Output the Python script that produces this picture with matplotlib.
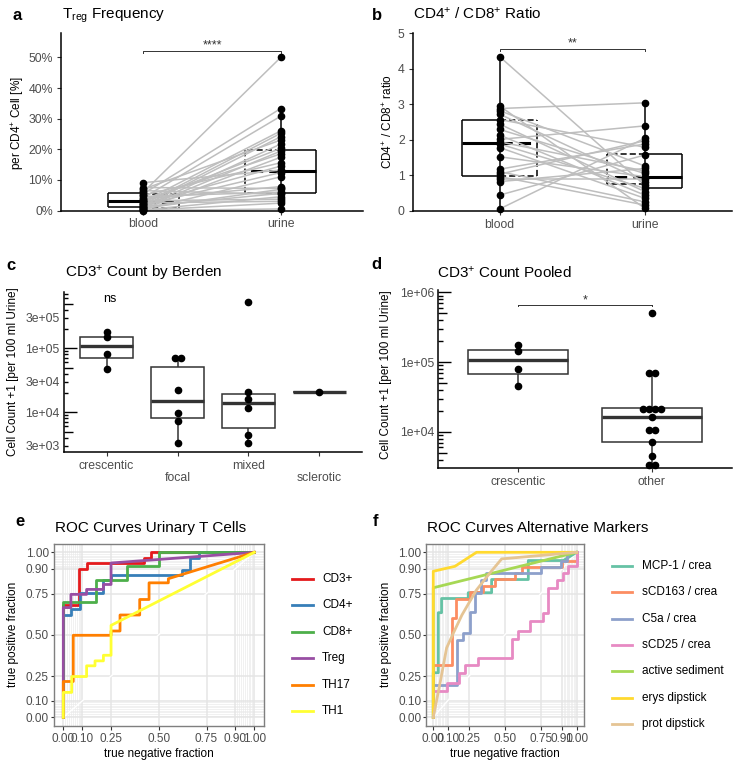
import numpy as np
import matplotlib
matplotlib.use("Agg")
import matplotlib.pyplot as plt
from matplotlib.lines import Line2D
from matplotlib.patches import Rectangle
from matplotlib import transforms

plt.rcParams['font.family'] = ['Liberation Sans', 'DejaVu Sans']
plt.rcParams['mathtext.default'] = 'regular'

W, H = 738, 764
TICK_C = '#4D4D4D'

# ---------------- data ----------------
# a: Treg frequency [% of CD4+], paired samples blood[i] <-> urine[i]
treg_blood = [6.0, 5.5, 4.2, 3.0, 2.0, 1.5, 7.0, 1.1, 2.8, 0.9, 3.5, 0.5, 5.0, 2.2,
              9.1, 1.8, 0.3, 3.8, 7.5, 0.7, 4.6, 1.3, 6.5, 0.2, 3.2, 2.5, 0.1, 0.0]
treg_urine = [50.0, 33.3, 30.8, 26.0, 25.2, 24.1, 23.0, 21.7, 20.3, 19.4, 18.5, 17.4, 15.6, 14.5,
              13.2, 12.4, 11.0, 7.8, 7.2, 6.9, 6.0, 5.6, 5.3, 4.5, 3.7, 3.0, 2.4, 0.5]
treg_box_solid = [(1.2, 3.1, 5.6), (5.6, 13.0, 19.8)]     # q1, median, q3
treg_box_dashed = [(0.8, 2.8, 5.4), (5.6, 13.0, 19.8)]
treg_whisk = [(0.0, 9.1), (0.5, 33.3)]

# b: CD4/CD8 ratio, paired
ratio_blood = [4.34, 2.95, 2.88, 2.82, 2.72, 2.57, 2.44, 2.29, 2.13, 2.01, 1.94,
               1.88, 1.78, 1.52, 1.17, 1.10, 1.03, 0.96, 0.88, 0.82, 0.44, 0.05]
ratio_urine = [0.72, 0.07, 3.04, 1.26, 0.82, 1.79, 0.54, 1.05, 0.44, 2.39, 1.12,
               0.63, 0.35, 0.96, 1.88, 0.25, 1.97, 0.16, 0.88, 1.19, 1.57, 2.04]
ratio_box_solid = [(0.98, 1.9, 2.57), (0.64, 0.96, 1.6)]
ratio_box_dashed = [(0.98, 1.9, 2.57), (0.75, 0.96, 1.6)]
ratio_whisk = [(0.0, 4.34), (0.0, 3.04)]

# c: CD3+ count by Berden class
berden_groups = ['crescentic', 'focal', 'mixed', 'sclerotic']
cd3_crescentic = [1.78e5, 1.49e5, 8.06e4, 4.7e4]
cd3_focal = [7.0e4, 7.0e4, 2.25e4, 9.9e3, 7.3e3, 3.3e3]
cd3_mixed = [5.24e5, 2.05e4, 1.63e4, 1.16e4, 4.47e3, 3.35e3]
cd3_sclerotic = [2.05e4]
berden_q1 = [7.1e4, 8.05e3, 5.75e3, 2.05e4]
berden_med = [1.09e5, 1.52e4, 1.38e4, 2.05e4]
berden_q3 = [1.52e5, 5.1e4, 1.93e4, 2.05e4]
berden_wlo = [4.7e4, 3.3e3, 3.35e3, 2.05e4]
berden_whi = [1.78e5, 7.0e4, 2.05e4, 2.05e4]

# d: CD3+ count pooled
pooled_groups = ['crescentic', 'other']
pooled_crescentic = [1.75e5, 1.44e5, 7.94e4, 4.6e4]
pooled_other = [5.1e5, 6.95e4, 6.95e4, 2.1e4, 2.1e4, 2.1e4, 2.1e4, 1.65e4,
                1.06e4, 1.06e4, 7.3e3, 4.5e3, 3.4e3, 3.4e3]
pooled_q1 = [6.8e4, 7.3e3]
pooled_med = [1.07e5, 1.65e4]
pooled_q3 = [1.48e5, 2.24e4]
pooled_wlo = [4.6e4, 3.4e3]
pooled_whi = [1.75e5, 6.95e4]

# e: ROC urinary T cells
roc_breaks = [0, 0.1, 0.25, 0.5, 0.75, 0.9, 1.0]
roc_labels = ['0.00', '0.10', '0.25', '0.50', '0.75', '0.90', '1.00']
e_names = ['CD3+', 'CD4+', 'CD8+', 'Treg', 'TH17', 'TH1']
e_colors = ['#E41A1C', '#377EB8', '#4DAF4A', '#984EA3', '#FF7F00', '#FFFF33']
cd3_x = [0, 0, 0.084, 0.084, 0.126, 0.126, 0.42, 0.42, 0.46, 0.46, 1.0]
cd3_y = [0, 0.68, 0.68, 0.90, 0.90, 0.935, 0.935, 0.965, 0.965, 1.0, 1.0]
cd4_x = [0, 0, 0.04, 0.04, 0.087, 0.087, 0.21, 0.21, 0.25, 0.25, 0.62, 0.62, 0.665, 0.665, 0.71, 0.71, 1.0]
cd4_y = [0, 0.62, 0.62, 0.655, 0.655, 0.755, 0.755, 0.83, 0.83, 0.865, 0.865, 0.895, 0.895, 0.965, 0.965, 1.0, 1.0]
cd8_x = [0, 0, 0.17, 0.17, 0.335, 0.335, 0.5, 0.5, 1.0]
cd8_y = [0, 0.70, 0.70, 0.83, 0.83, 0.915, 0.915, 1.0, 1.0]
treg_x = [0, 0, 0.04, 0.04, 0.122, 0.122, 0.21, 0.21, 0.25, 0.25, 1.0]
treg_y = [0, 0.665, 0.665, 0.745, 0.745, 0.775, 0.775, 0.805, 0.805, 0.935, 1.0]
th17_x = [0, 0, 0.052, 0.052, 0.25, 0.25, 0.297, 0.297, 0.40, 0.40, 0.449, 0.449, 0.55, 0.55, 1.0]
th17_y = [0, 0.217, 0.217, 0.497, 0.497, 0.523, 0.523, 0.62, 0.62, 0.714, 0.714, 0.815, 0.815, 0.84, 1.0]
th1_x = [0, 0, 0.044, 0.044, 0.122, 0.122, 0.166, 0.166, 0.21, 0.21, 0.25, 0.25, 1.0]
th1_y = [0, 0.151, 0.151, 0.247, 0.247, 0.312, 0.312, 0.342, 0.342, 0.376, 0.376, 0.557, 1.0]

# f: ROC alternative markers
f_names = ['MCP-1 / crea', 'sCD163 / crea', 'C5a / crea', 'sCD25 / crea',
           'active sediment', 'erys dipstick', 'prot dipstick']
f_colors = ['#66C2A5', '#FC8D62', '#8DA0CB', '#E78AC3', '#A6D854', '#FFD92F', '#E5C494']
mcp_x = [0, 0, 0.035, 0.035, 0.058, 0.058, 0.244, 0.244, 0.407, 0.407, 0.663, 0.663, 0.907, 1.0]
mcp_y = [0, 0.27, 0.27, 0.634, 0.634, 0.72, 0.72, 0.755, 0.755, 0.835, 0.835, 0.95, 0.95, 1.0]
scd163_x = [0, 0, 0.128, 0.128, 0.158, 0.158, 0.256, 0.256, 0.35, 0.35, 0.43, 0.43, 0.57, 0.57,
            0.616, 0.616, 0.9, 0.9, 1.0, 1.0]
scd163_y = [0, 0.32, 0.32, 0.60, 0.60, 0.72, 0.72, 0.76, 0.76, 0.795, 0.795, 0.84, 0.84, 0.875,
            0.875, 0.91, 0.91, 0.95, 0.95, 1.0]
c5a_x = [0, 0, 0.163, 0.163, 0.205, 0.205, 0.256, 0.256, 0.29, 0.29, 0.335, 0.335, 0.37, 0.37,
         0.75, 0.75, 0.89, 0.89, 0.93, 0.93, 1.0]
c5a_y = [0, 0.195, 0.195, 0.47, 0.47, 0.51, 0.51, 0.64, 0.64, 0.755, 0.755, 0.835, 0.835, 0.875,
         0.875, 0.91, 0.91, 0.95, 0.95, 1.0, 1.0]
scd25_x = [0, 0, 0.093, 0.093, 0.18, 0.18, 0.22, 0.22, 0.314, 0.314, 0.547, 0.547, 0.593, 0.593,
           0.674, 0.674, 0.767, 0.767, 0.80, 0.80, 0.86, 0.86, 0.907, 0.907, 0.94, 0.94, 1.0, 1.0]
scd25_y = [0, 0.16, 0.16, 0.21, 0.21, 0.27, 0.27, 0.315, 0.315, 0.36, 0.36, 0.473, 0.473, 0.523,
           0.523, 0.584, 0.584, 0.63, 0.63, 0.785, 0.785, 0.835, 0.835, 0.875, 0.875, 0.92, 0.92, 1.0]
sed_x = [0, 0, 1.0]
sed_y = [0, 0.785, 1.0]
erys_x = [0, 0, 0.151, 0.302, 1.0]
erys_y = [0, 0.885, 0.915, 1.0, 1.0]
prot_x = [0, 0.05, 0.093, 0.14, 0.2, 0.3, 0.4, 0.477, 1.0]
prot_y = [0, 0.22, 0.42, 0.51, 0.62, 0.77, 0.88, 0.96, 1.0]

# ---------------- helpers ----------------
fig = plt.figure(figsize=(W / 100, H / 100), dpi=100)


def make_ax(l, t, r, b):
    return fig.add_axes([l / W, 1 - b / H, (r - l) / W, (b - t) / H])


def ftext(x, y, s, **kw):
    fig.text(x / W, 1 - y / H, s, **kw)


def classic(ax):
    ax.set_facecolor('none')
    for s in ['top', 'right']:
        ax.spines[s].set_visible(False)
    for s in ['left', 'bottom']:
        ax.spines[s].set_linewidth(1.1)
        ax.spines[s].set_color('black')
    ax.tick_params(length=2.75, width=0.8, color='#333333', labelcolor=TICK_C,
                   labelsize=8.8, pad=3)


def half_box(ax, x, q1, med, q3, side, ls):
    x1 = x + side * 0.26
    kw = dict(color='black', lw=1.1, ls=ls, zorder=1, solid_capstyle='butt')
    ax.plot([x, x1], [q1, q1], **kw)
    ax.plot([x, x1], [q3, q3], **kw)
    ax.plot([x1, x1], [q1, q3], **kw)
    kw['lw'] = 2.2
    ax.plot([x, x1], [med, med], **kw)


def paired_panel(ax, blood, urine, box_solid, box_dashed, whisk):
    for b, u in zip(blood, urine):
        ax.plot([1, 2], [b, u], color='#BEBEBE', lw=1.1, zorder=2)
    for i, x in enumerate([1, 2]):
        side = -1 if i == 0 else 1
        half_box(ax, x, *box_solid[i], side, '-')
        half_box(ax, x, *box_dashed[i], -side, (0, (4, 2)))
        ax.plot([x, x], whisk[i], color='black', lw=1.1, zorder=3)
    ax.plot(np.ones(len(blood)), blood, 'o', color='black', ms=4.5, zorder=4, clip_on=False)
    ax.plot(np.full(len(urine), 2), urine, 'o', color='black', ms=4.5, zorder=4, clip_on=False)


def bracket(ax, x1, x2, y, h, label, size=9):
    ax.plot([x1, x1, x2, x2], [y - h, y, y, y - h], color='#333333', lw=0.7, clip_on=False)
    ax.annotate(label, ((x1 + x2) / 2, y), xytext=(0, 1.5), textcoords='offset points',
                ha='center', va='baseline', fontsize=size, color='#333333')


def box_panel(ax, groups, q1, med, q3, wlo, whi, dot_dx):
    for i, vals in enumerate(groups):
        x = i + 1
        ax.plot([x, x], [q3[i], whi[i]], color='#333333', lw=1.1, zorder=1)
        ax.plot([x, x], [wlo[i], q1[i]], color='#333333', lw=1.1, zorder=1)
        ax.add_patch(Rectangle((x - 0.375, q1[i]), 0.75, q3[i] - q1[i], fc='white',
                               ec='#333333', lw=1.1, zorder=2))
        ax.plot([x - 0.375, x + 0.375], [med[i], med[i]], color='#333333', lw=2.4,
                zorder=3, solid_capstyle='butt')
        for v in sorted(set(vals)):
            n = vals.count(v)
            offs = (np.arange(n) - (n - 1) / 2) * dot_dx
            ax.plot(x + offs, [v] * n, 'o', color='black', ms=4.5, zorder=4, clip_on=False)


def log_ticks(ax, width_px):
    tr = transforms.blended_transform_factory(ax.transAxes, ax.transData)
    lo, hi = ax.get_ylim()
    for d in range(2, 7):
        for k in range(1, 10):
            v = k * 10.0 ** d
            if lo <= v <= hi:
                L = 13 if k == 1 else (8.5 if k == 5 else 4.3)
                ax.plot([0, L / width_px], [v, v], transform=tr, color='black', lw=1.0,
                        clip_on=False, solid_capstyle='butt')


def roc_panel(ax, xs, ys, colors):
    ax.set_xlim(-0.05, 1.05)
    ax.set_ylim(-0.05, 1.05)
    minor = list(np.arange(0.01, 0.095, 0.01)) + list(np.arange(0.91, 0.995, 0.01))
    for m in minor:
        ax.axvline(m, color='#EBEBEB', lw=0.5, zorder=0)
        ax.axhline(m, color='#EBEBEB', lw=0.5, zorder=0)
    for b in roc_breaks:
        ax.axvline(b, color='#E5E5E5', lw=1.1, zorder=0)
        ax.axhline(b, color='#E5E5E5', lw=1.1, zorder=0)
    ax.plot([0, 1], [0, 1], color='white', lw=1.0, zorder=1)
    for x, y, c in zip(xs, ys, colors):
        ax.plot(x, y, color=c, lw=2.0, zorder=2)
    for s in ax.spines.values():
        s.set_color('#7F7F7F')
        s.set_linewidth(1.0)
    ax.set_xticks(roc_breaks)
    ax.set_xticklabels(roc_labels)
    ax.set_yticks(roc_breaks)
    ax.set_yticklabels(roc_labels)
    ax.tick_params(axis='x', length=2.75, width=0.8, color='#333333', labelcolor=TICK_C,
                   labelsize=8.5, pad=2.5)
    ax.tick_params(axis='y', length=2, width=0.8, color='#333333', labelcolor=TICK_C,
                   labelsize=8.5, pad=1.5)


def legend_block(x0, x1, xt, y0, names, colors):
    for i, (n, c) in enumerate(zip(names, colors)):
        y = y0 + i * 26.4
        fig.add_artist(Line2D([x0 / W, x1 / W], [1 - y / H, 1 - y / H], color=c, lw=2.0,
                              transform=fig.transFigure))
        ftext(xt, y, n, fontsize=8.5, va='center', ha='left')


# ---------------- panel a ----------------
ax = make_ax(61, 33, 363, 210.5)
classic(ax)
paired_panel(ax, treg_blood, treg_urine, treg_box_solid, treg_box_dashed, treg_whisk)
ax.set_xlim(0.4, 2.6)
ax.set_ylim(0, 58)
ax.set_xticks([1, 2])
ax.set_xticklabels(['blood', 'urine'])
ax.set_yticks([0, 10, 20, 30, 40, 50])
ax.set_yticklabels(['0%', '10%', '20%', '30%', '40%', '50%'])
bracket(ax, 1, 2, 52.2, 0.7, '****')

# ---------------- panel b ----------------
ax = make_ax(412.7, 33.3, 731.7, 210.7)
classic(ax)
paired_panel(ax, ratio_blood, ratio_urine, ratio_box_solid, ratio_box_dashed, ratio_whisk)
ax.set_xlim(0.4, 2.6)
ax.set_ylim(0, 5)
ax.set_xticks([1, 2])
ax.set_xticklabels(['blood', 'urine'])
ax.set_yticks([0, 1, 2, 3, 4, 5])
bracket(ax, 1, 2, 4.57, 0.06, '**')

# ---------------- panel c ----------------
ax = make_ax(64, 292.3, 362, 451.7)
classic(ax)
ax.set_yscale('log')
ax.set_xlim(0.4, 4.6)
ax.set_ylim(10 ** 3.384, 10 ** 5.875)
box_panel(ax, [cd3_crescentic, cd3_focal, cd3_mixed, cd3_sclerotic],
          berden_q1, berden_med, berden_q3, berden_wlo, berden_whi, 6 / 71)
ax.set_xticks([1, 2, 3, 4])
ax.set_xticklabels(['crescentic', '\nfocal', 'mixed', '\nsclerotic'], linespacing=1.0)
ax.set_yticks([3e3, 1e4, 3e4, 1e5, 3e5])
ax.set_yticklabels(['3e+03', '1e+04', '3e+04', '1e+05', '3e+05'])
ax.yaxis.set_minor_locator(matplotlib.ticker.NullLocator())
ax.tick_params(axis='y', length=0, pad=3)
log_ticks(ax, 362 - 64)
ax.text(1.05, 10 ** 5.716, 'ns', ha='center', va='baseline', fontsize=9, color='black')

# ---------------- panel d ----------------
ax = make_ax(438.3, 290, 731.7, 468.3)
classic(ax)
ax.set_yscale('log')
ax.set_xlim(0.4, 2.6)
ax.set_ylim(10 ** 3.48, 10 ** 6.033)
box_panel(ax, [pooled_crescentic, pooled_other],
          pooled_q1, pooled_med, pooled_q3, pooled_wlo, pooled_whi, 6 / 135.7)
ax.set_xticks([1, 2])
ax.set_xticklabels(pooled_groups)
ax.set_yticks([1e4, 1e5, 1e6])
ax.set_yticklabels(['1e+04', '1e+05', '1e+06'])
ax.yaxis.set_minor_locator(matplotlib.ticker.NullLocator())
ax.tick_params(axis='y', length=0, pad=3)
log_ticks(ax, 731.7 - 438.3)
bracket(ax, 1, 2, 10 ** 5.817, 0, '*')
ax.plot([1, 1], [10 ** 5.817, 10 ** 5.80], color='#333333', lw=0.7)
ax.plot([2, 2], [10 ** 5.817, 10 ** 5.80], color='#333333', lw=0.7)

# ---------------- panel e ----------------
ax = make_ax(53.75, 544.05, 263.85, 725.55)
roc_panel(ax, [cd3_x, cd4_x, cd8_x, treg_x, th17_x, th1_x],
          [cd3_y, cd4_y, cd8_y, treg_y, th17_y, th1_y], e_colors)
legend_block(292, 313, 322, 579, e_names, e_colors)

# ---------------- panel f ----------------
ax = make_ax(426.1, 544.05, 583.8, 725.55)
roc_panel(ax, [mcp_x, scd163_x, c5a_x, scd25_x, sed_x, erys_x, prot_x],
          [mcp_y, scd163_y, c5a_y, scd25_y, sed_y, erys_y, prot_y], f_colors)
legend_block(612, 632, 641.7, 565.7, f_names, f_colors)

# ---------------- titles / labels ----------------
title_kw = dict(fontsize=11, va='baseline', ha='left')
letter_kw = dict(fontsize=12, fontweight='bold', va='baseline', ha='left')
ftext(13, 20, 'a', **letter_kw)
ftext(61.7, 18.5, 'T$_{reg}$ Frequency', **title_kw)
ftext(371.7, 20, 'b', **letter_kw)
ftext(413.3, 18.5, 'CD4$^{+}$ / CD8$^{+}$ Ratio', **title_kw)
ftext(6.7, 270, 'c', **letter_kw)
ftext(65, 277.3, 'CD3$^{+}$ Count by Berden', **title_kw)
ftext(371.7, 269.3, 'd', **letter_kw)
ftext(436.7, 277.3, 'CD3$^{+}$ Count Pooled', **title_kw)
ftext(15, 526, 'e', **letter_kw)
ftext(55, 531.7, 'ROC Curves Urinary T Cells', **title_kw)
ftext(373, 526, 'f', **letter_kw)
ftext(426.7, 531.7, 'ROC Curves Alternative Markers', **title_kw)

ylab_kw = dict(fontsize=8.5, rotation=90, ha='center', va='center')
ftext(17.2, 122.8, 'per CD4$^{+}$ Cell [%]', **ylab_kw)
ftext(388, 121.7, 'CD4$^{+}$ / CD8$^{+}$ ratio', **ylab_kw)
ftext(13.3, 371.7, 'Cell Count +1 [per 100 ml Urine]', **ylab_kw)
ftext(386, 375, 'Cell Count +1 [per 100 ml Urine]', **ylab_kw)
ftext(13.3, 634, 'true positive fraction', **ylab_kw)
ftext(386, 634, 'true positive fraction', **ylab_kw)
ftext(158.8, 754, 'true negative fraction', fontsize=8.5, ha='center', va='center')
ftext(505, 754, 'true negative fraction', fontsize=8.5, ha='center', va='center')

fig.savefig('out.png', dpi=100)
